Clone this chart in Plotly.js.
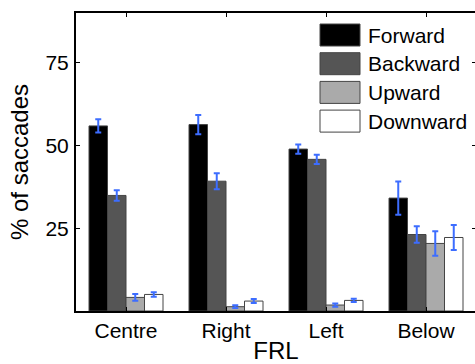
<!DOCTYPE html>
<html>
<head>
<meta charset="utf-8">
<script src="https://cdn.plot.ly/plotly-3.0.1.min.js"></script>
<style>
  html, body { margin: 0; padding: 0; overflow: hidden; background: #fff; }
  #chart { width: 477px; height: 364px; }
</style>
</head>
<body>
<div id="chart"></div>
<script>
// FRL conditions along the x axis
const categories = ['Centre', 'Right', 'Left', 'Below'];

// Saccade direction series (% of saccades) and their error margins
const seriesNames = ['Forward', 'Backward', 'Upward', 'Downward'];
const forward      = [55.9, 56.3, 48.9, 34.1];
const forwardErr   = [2.0, 2.9, 1.4, 5.0];
const backward     = [34.9, 39.2, 45.8, 23.1];
const backwardErr  = [1.6, 2.4, 1.4, 2.5];
const upward       = [4.1, 1.3, 1.8, 20.4];
const upwardErr    = [1.0, 0.4, 0.5, 3.7];
const downward     = [5.0, 3.0, 3.2, 22.2];
const downwardErr  = [0.7, 0.6, 0.5, 3.8];

const yTicks = [25, 50, 75];

const values = [forward, backward, upward, downward];
const errors = [forwardErr, backwardErr, upwardErr, downwardErr];
const fills = ['#000000', '#555555', '#aaaaaa', '#ffffff'];
const edge = '#444444';
const errColor = '#3d6dff';
const font = '"Liberation Sans", Arial, Helvetica, sans-serif';

const traces = seriesNames.map((name, i) => ({
  type: 'bar',
  name: name,
  x: categories,
  y: values[i],
  marker: { color: fills[i], line: { color: edge, width: 1 } },
  error_y: { type: 'data', array: errors[i], visible: true,
             color: errColor, thickness: 2, width: 3 },
  showlegend: false,
  hoverinfo: 'skip'
}));

// Plot area geometry (pixels) used to place the hand-built legend
const W = 477, H = 364;
const M = { l: 76, r: 1, t: 13, b: 53 };
const plotW = W - M.l - M.r, plotH = H - M.t - M.b;
const px = x => (x - M.l) / plotW;
const py = y => (H - M.b - y) / plotH;

const shapes = [], annotations = [];
const boxL = 320, boxR = 360, boxH = 22, rowTop0 = 24, rowStep = 28.7;
seriesNames.forEach((name, i) => {
  const top = rowTop0 + i * rowStep;
  shapes.push({
    type: 'rect', xref: 'paper', yref: 'paper',
    x0: px(boxL), x1: px(boxR), y0: py(top + boxH), y1: py(top),
    fillcolor: fills[i], line: { color: edge, width: 1 }
  });
  annotations.push({
    xref: 'paper', yref: 'paper', x: px(366), y: py(top + boxH / 2),
    xanchor: 'left', yanchor: 'middle', showarrow: false,
    text: name, font: { family: font, size: 21, color: '#000' }
  });
});

const layout = {
  width: W, height: H,
  margin: M,
  paper_bgcolor: '#fff', plot_bgcolor: '#fff',
  barmode: 'group', bargap: 0.26, bargroupgap: 0,
  font: { family: font, color: '#000' },
  xaxis: {
    type: 'category', range: [-0.5, 3.5],
    showline: true, linecolor: '#000', linewidth: 2, mirror: 'ticks',
    ticks: 'inside', ticklen: 4, tickcolor: '#000', tickwidth: 1,
    tickfont: { family: font, size: 21 },
    showgrid: false, zeroline: false,
    title: { text: 'FRL', font: { family: font, size: 24 }, standoff: 6 }
  },
  yaxis: {
    range: [0, 90], tickvals: yTicks, ticktext: yTicks.map(String),
    showline: true, linecolor: '#000', linewidth: 2, mirror: 'ticks',
    ticks: 'inside', ticklen: 4, tickcolor: '#000', tickwidth: 1,
    tickfont: { family: font, size: 21 }, ticklabelstandoff: 1,
    showgrid: false, zeroline: false,
    title: { text: '% of saccades', font: { family: font, size: 24 }, standoff: 10 }
  },
  shapes: shapes,
  annotations: annotations
};

Plotly.newPlot('chart', traces, layout, { displayModeBar: false, staticPlot: true });
</script>
</body>
</html>
